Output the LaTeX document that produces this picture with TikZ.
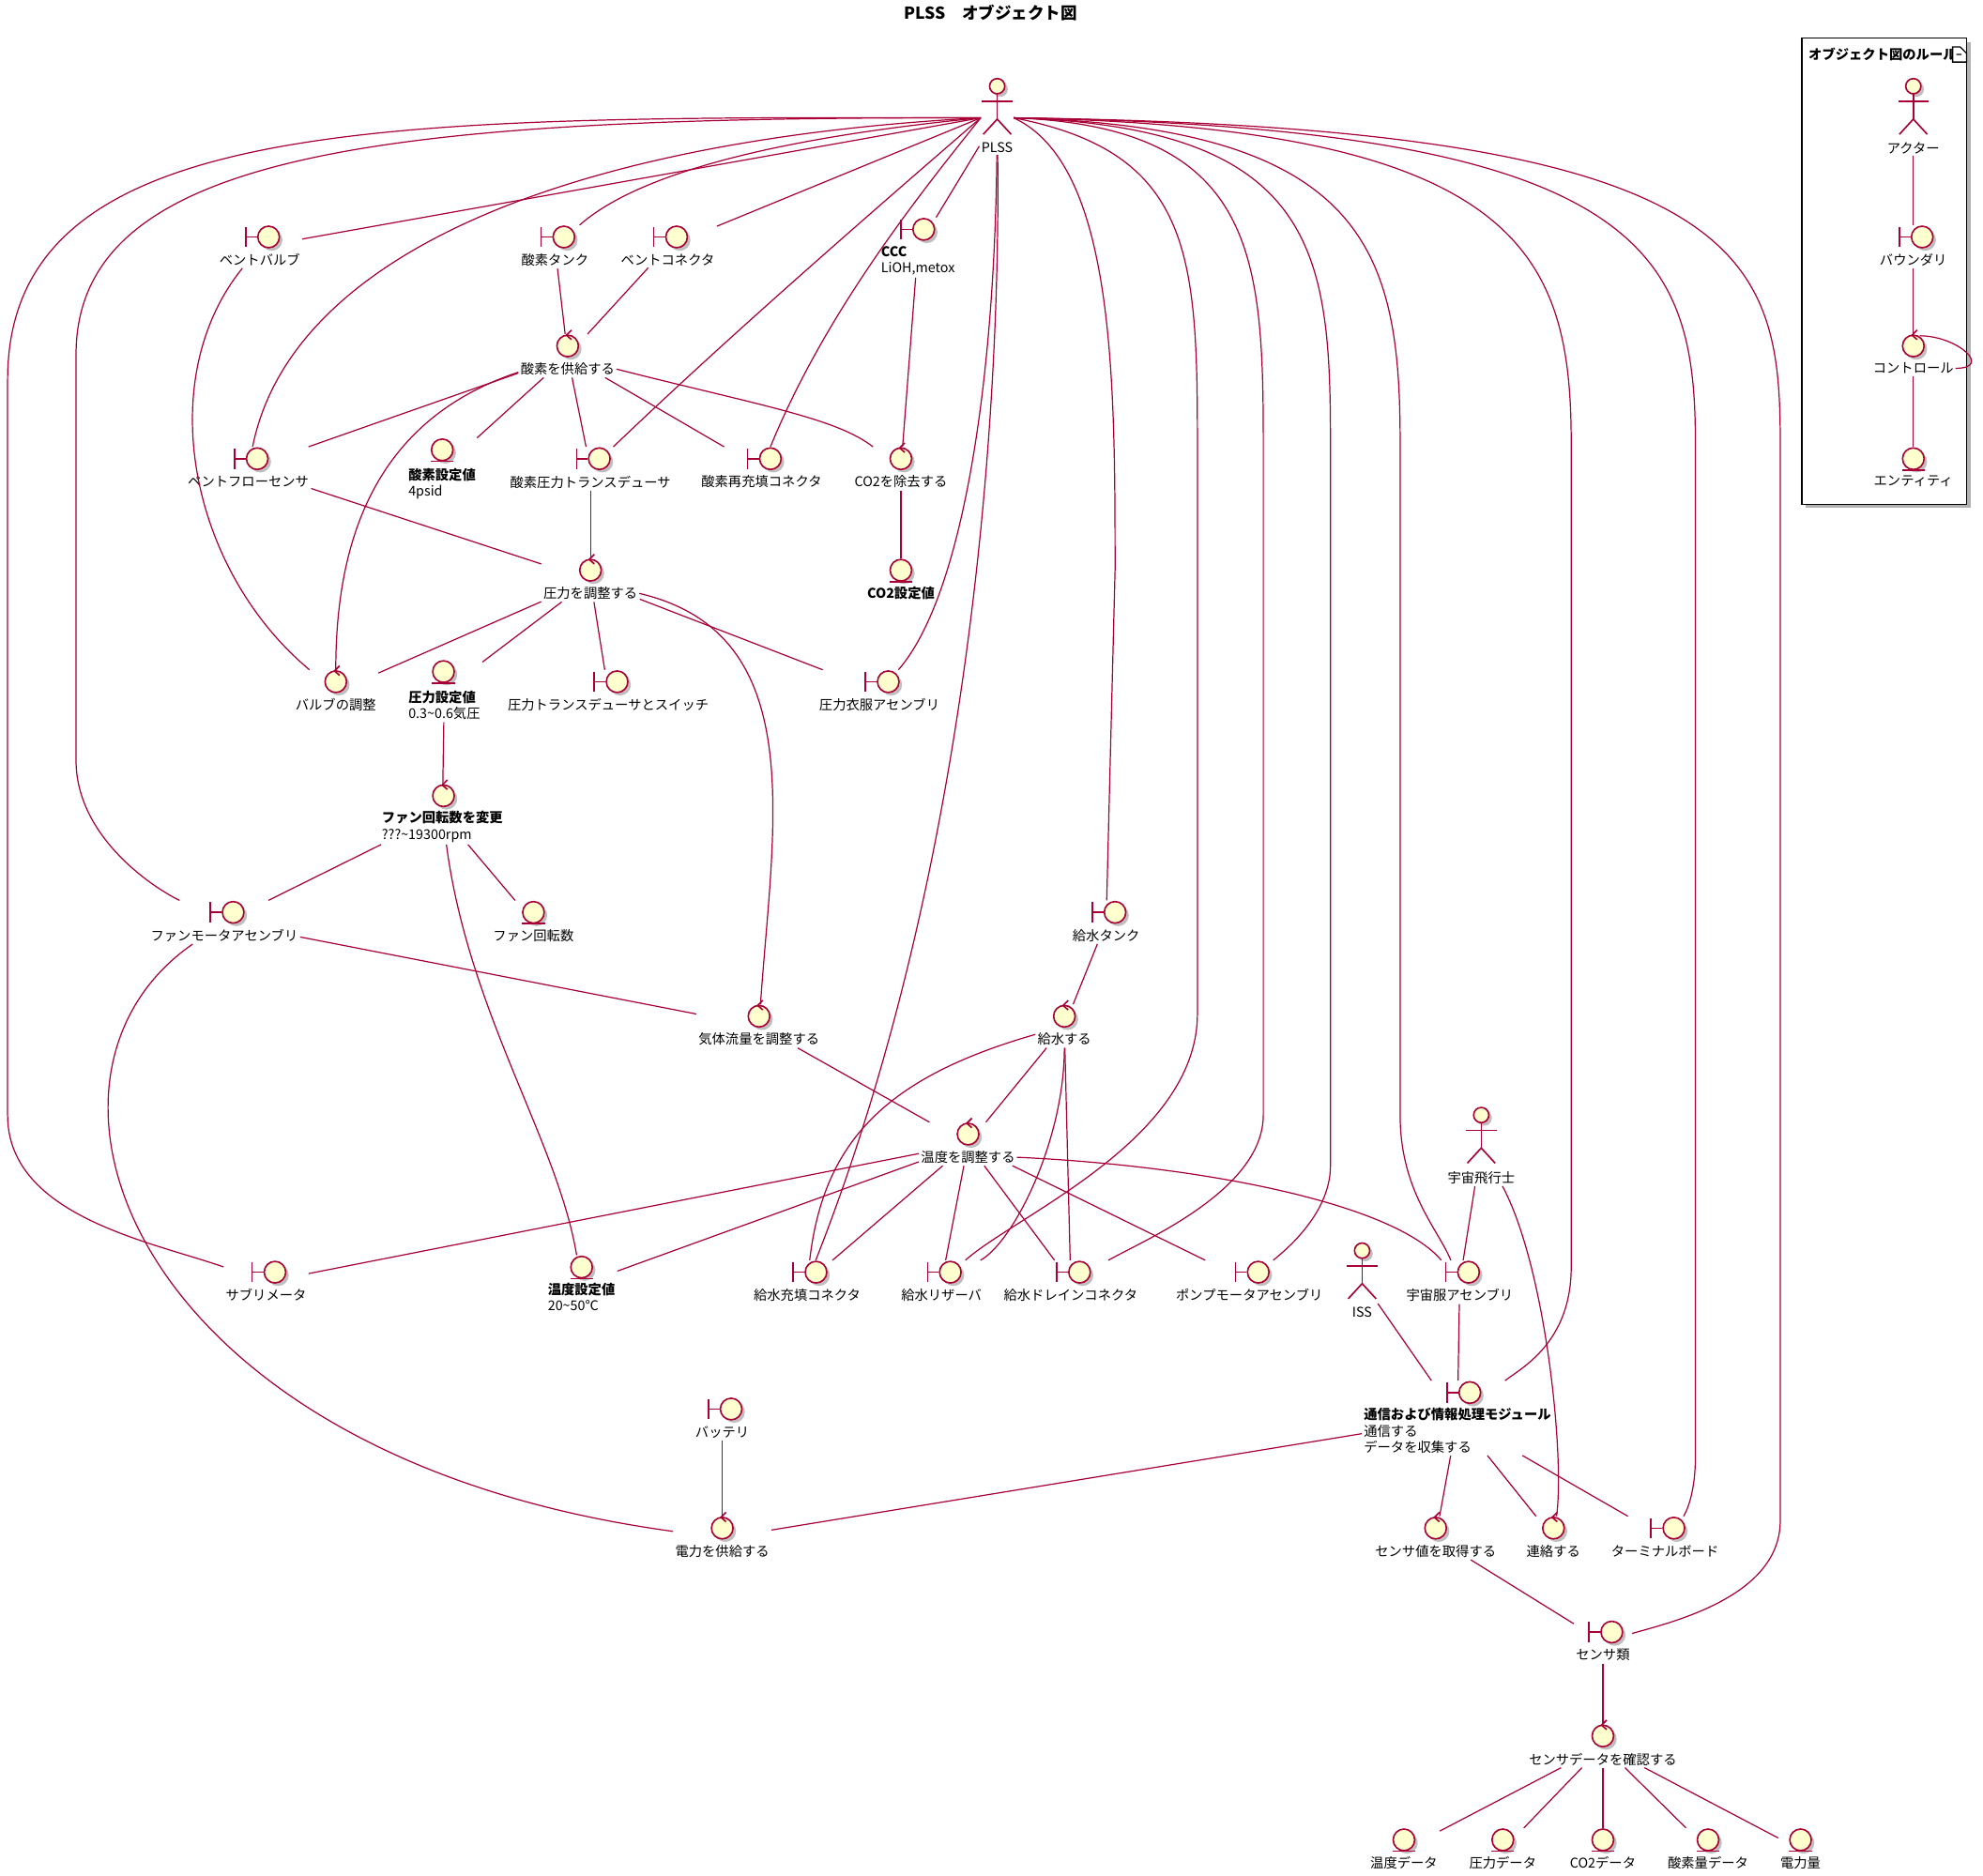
\documentclass[tikz,border=0pt]{standalone}
\usepackage{fontspec}
\setmainfont{Noto Sans CJK JP}
\usetikzlibrary{fit,shadows}
\definecolor{rd}{HTML}{A80036}
\definecolor{yl}{HTML}{FEFECE}
\tikzset{
 ic/.style={circle,draw=rd,fill=yl,line width=0.6pt,minimum size=8.5pt,inner sep=0pt,
   drop shadow={shadow xshift=1.2pt,shadow yshift=-1.2pt,opacity=.25,fill=black}},
 st/.style={draw=rd,line width=0.6pt},
 lbl/.style={font=\fontsize{5.3pt}{6.4pt}\selectfont,inner sep=0.5pt,align=center},
 fitn/.style={inner sep=0pt},
 e/.style={draw=rd,line width=0.45pt}
}
\newcommand\icboundary[3]{\node[ic] (#1-i) at (#2+7,#3) {};
 \draw[st] (#2-11,#3-8) -- (#2-11,#3+8); \draw[st] (#2-11,#3) -- (#1-i.west);
 \coordinate (#1-a) at (#2-12,#3-9); \coordinate (#1-b) at (#2+16,#3);}
\newcommand\iccontrol[3]{\node[ic] (#1-i) at (#2,#3) {};
 \draw[st] (#2+3,#3-12.5) -- (#2-1,#3-8.5) -- (#2+3,#3-5);
 \coordinate (#1-a) at (#2-9,#3-9); \coordinate (#1-b) at (#2+9,#3);}
\newcommand\icentity[3]{\node[ic] (#1-i) at (#2,#3) {};
 \draw[st] (#2-9,#3+9) -- (#2+9,#3+9);
 \coordinate (#1-a) at (#2-9,#3-9); \coordinate (#1-b) at (#2+9,#3);}
% element: name, type, x, y, text
\newcommand\el[5]{\csname ic#2\endcsname{#1}{#3}{#4}
 \node[lbl,anchor=north] (#1-l) at (#3,#4+12) {#5};
 \node[fitn,fit=(#1-a)(#1-b)(#1-l)] (#1) {};}
% left aligned label: name, type, x, y, lx, ly, text
\newcommand\elx[7]{\csname ic#2\endcsname{#1}{#3}{#4}
 \node[lbl,align=left,anchor=north west] (#1-l) at (#5,#6) {#7};
 \node[fitn,fit=(#1-a)(#1-b)(#1-l)] (#1) {};}
% actor: name, x, head y, text
\newcommand\ela[4]{\node[ic,minimum size=6pt] (#1-i) at (#2,#3) {};
 \draw[st] (#2,#3+6) -- (#2,#3+26); \draw[st] (#2-12,#3+12) -- (#2+12,#3+12);
 \draw[st] (#2-11,#3+38) -- (#2,#3+26) -- (#2+11,#3+38);
 \coordinate (#1-a) at (#2-12,#3-6); \coordinate (#1-b) at (#2+12,#3);
 \node[lbl,anchor=north] (#1-l) at (#2,#3+43) {#4};
 \node[fitn,fit=(#1-a)(#1-b)(#1-l)] (#1) {};}
\begin{document}
\begin{tikzpicture}[x=0.5pt,y=-0.5pt]
\useasboundingbox (0,0) rectangle (1565,1480);
\node[lbl,font=\fontsize{6.5pt}{7.5pt}\selectfont\bfseries] (title) at (782,10) {PLSS　オブジェクト図};
% legend
\draw[draw=black,line width=0.6pt,fill=white,drop shadow={shadow xshift=1.5pt,shadow yshift=-1.5pt,opacity=.3,fill=black}] (1422,30) rectangle (1552,398);
\node[lbl,font=\fontsize{5.3pt}{6.4pt}\selectfont\bfseries,anchor=west] (lt) at (1426,43) {オブジェクト図のルール};
\draw[black,line width=0.5pt,fill=white] (1541,37) -- (1547,37) -- (1552,42) -- (1552,49) -- (1541,49) -- cycle (1544,43) -- (1548,43);
\ela{la}{1510}{68}{アクター}
\el{lb}{boundary}{1510}{187}{バウンダリ}
\el{lc}{control}{1510}{273}{コントロール}
\el{le}{entity}{1510}{362}{エンティティ}
\draw[e] (la) -- (lb); \draw[e] (lb) -- (lc); \draw[e] (lc) -- (le);
\draw[e] (lc-l.east) .. controls +(30,0) and +(30,0) .. (1515,265);
% nodes
\ela{plss}{787}{68}{PLSS}
\el{vv}{boundary}{205}{187}{ベントバルブ}
\el{ot}{boundary}{438}{187}{酸素タンク}
\el{vc}{boundary}{527}{187}{ベントコネクタ}
\elx{ccc}{boundary}{722}{181}{694}{193}{\textbf{CCC}\\LiOH,metox}
\el{os}{control}{448}{273}{酸素を供給する}
\el{vfs}{boundary}{196}{362}{ベントフローセンサ}
\elx{osv}{entity}{349}{355}{321}{368}{\textbf{酸素設定値}\\4psid}
\el{opt}{boundary}{466}{362}{酸素圧力トランスデューサ}
\el{orc}{boundary}{601}{362}{酸素再充填コネクタ}
\el{co2r}{control}{711}{362}{CO2を除去する}
\el{co2v}{entity}{711}{450}{\textbf{CO2設定値}}
\el{pr}{control}{466}{450}{圧力を調整する}
\el{va}{control}{265}{538}{バルブの調整}
\elx{prv}{entity}{350}{530}{321}{544}{\textbf{圧力設定値}\\0.3\textasciitilde0.6気圧}
\el{pts}{boundary}{480}{538}{圧力トランスデューサとスイッチ}
\el{psa}{boundary}{694}{538}{圧力衣服アセンブリ}
\elx{fr}{control}{350}{628}{300}{639}{\textbf{ファン回転数を変更}\\???\textasciitilde19300rpm}
\el{fma}{boundary}{177}{720}{ファンモータアセンブリ}
\el{frn}{entity}{421}{720}{ファン回転数}
\el{wt}{boundary}{873}{720}{給水タンク}
\el{gf}{control}{599}{802}{気体流量を調整する}
\el{ws}{control}{840}{802}{給水する}
\el{tc}{control}{764}{895}{温度を調整する}
\ela{astro}{1169}{880}{宇宙飛行士}
\el{sub}{boundary}{210}{1004}{サブリメータ}
\elx{tv}{entity}{459}{1000}{431}{1011}{\textbf{温度設定値}\\20\textasciitilde50℃}
\el{wfc}{boundary}{637}{1004}{給水充填コネクタ}
\el{wr}{boundary}{743}{1004}{給水リザーバ}
\el{wdc}{boundary}{845}{1004}{給水ドレインコネクタ}
\el{pma}{boundary}{986}{1004}{ポンプモータアセンブリ}
\ela{iss}{1075}{987}{ISS}
\el{suit}{boundary}{1152}{1004}{宇宙服アセンブリ}
\elx{com}{boundary}{1153}{1099}{1075}{1110}{\textbf{通信および情報処理モジュール}\\通信する\\データを収集する}
\el{bat}{boundary}{570}{1112}{バッテリ}
\el{pw}{control}{570}{1206}{電力を供給する}
\el{sg}{control}{1133}{1206}{センサ値を取得する}
\el{ct}{control}{1226}{1206}{連絡する}
\el{tb}{boundary}{1314}{1206}{ターミナルボード}
\el{sens}{boundary}{1265}{1288}{センサ類}
\el{scd}{control}{1265}{1370}{センサデータを確認する}
\el{d1}{entity}{1108}{1452}{温度データ}
\el{d2}{entity}{1186}{1452}{圧力データ}
\el{d3}{entity}{1265}{1452}{CO2データ}
\el{d4}{entity}{1348}{1452}{酸素量データ}
\el{d5}{entity}{1421}{1452}{電力量}
% PLSS edges
\coordinate (pl) at (774,93); \coordinate (pr0) at (800,93);
\draw[e] (pl) -- (vv);
\draw[e] (pl) .. controls (600,110) and (500,140) .. (ot);
\draw[e] (pl) -- (vc);
\draw[e] (plss) -- (ccc);
\draw[e] (pl) .. controls (450,110) and (230,200) .. (vfs);
\draw[e] (pl) .. controls (650,200) and (560,280) .. (opt);
\draw[e] (pl) .. controls (720,160) and (650,250) .. (orc);
\draw[e] (plss) .. controls (785,300) and (760,470) .. (psa);
\draw[e] (plss) .. controls (790,350) and (760,700) .. (wfc);
\draw[e] (pl) .. controls (300,92) and (60,120) .. (60,280) -- (60,600) .. controls (60,660) and (120,700) .. (fma);
\draw[e] (pl) .. controls (300,92) and (6,90) .. (6,300) -- (6,880) .. controls (6,960) and (120,980) .. (sub);
\draw[e] (pr0) .. controls (880,130) and (880,300) .. (880,450) -- (wt);
\draw[e] (pr0) .. controls (940,120) and (945,200) .. (945,350) -- (945,800) .. controls (945,900) and (800,960) .. (wr);
\draw[e] (pr0) .. controls (990,100) and (997,200) .. (997,350) -- (997,880) .. controls (997,940) and (900,980) .. (wdc);
\draw[e] (pr0) .. controls (1040,100) and (1050,200) .. (1050,350) -- (1050,920) .. controls (1050,960) and (1010,990) .. (pma);
\draw[e] (pr0) .. controls (1080,100) and (1105,200) .. (1105,350) -- (1105,880) .. controls (1105,940) and (1135,970) .. (suit);
\draw[e] (pr0) .. controls (1200,100) and (1240,200) .. (1240,350) -- (1240,1000) .. controls (1240,1060) and (1200,1080) .. (com);
\draw[e] (pr0) .. controls (1300,100) and (1338,200) .. (1338,350) -- (1338,1150) .. controls (1338,1180) and (1330,1195) .. (tb);
\draw[e] (pr0) .. controls (1380,100) and (1405,200) .. (1405,350) -- (1405,1200) .. controls (1405,1260) and (1320,1280) .. (sens);
% other edges
\draw[e] (ot) -- (os); \draw[e] (vc) -- (os); \draw[e] (ccc) -- (co2r);
\draw[e] (os) -- (vfs); \draw[e] (os) -- (osv); \draw[e] (os) -- (opt);
\draw[e] (os) -- (orc); \draw[e] (os-l.east) .. controls (600,320) and (660,330) .. (co2r);
\draw[e] (os) .. controls (300,330) and (265,420) .. (va);
\draw[e] (vv) .. controls (120,300) and (150,450) .. (va);
\draw[e] (co2r) -- (co2v);
\draw[e] (vfs) -- (pr); \draw[e] (opt) -- (pr);
\draw[e] (pr) -- (va); \draw[e] (pr) -- (prv); \draw[e] (pr) -- (pts); \draw[e] (pr) -- (psa);
\draw[e] (pr-l.east) .. controls (640,500) and (610,650) .. (gf);
\draw[e] (prv) -- (fr);
\draw[e] (fr) -- (fma); \draw[e] (fr) -- (frn);
\draw[e] (fr) .. controls (370,800) and (440,900) .. (tv);
\draw[e] (fma) -- (gf);
\draw[e] (fma) .. controls (0,850) and (100,1150) .. (pw);
\draw[e] (wt) -- (ws);
\draw[e] (ws) -- (tc); \draw[e] (ws) -- (wdc);
\draw[e] (ws) .. controls (700,850) and (650,900) .. (wfc);
\draw[e] (ws) .. controls (840,900) and (800,980) .. (wr);
\draw[e] (gf) -- (tc);
\draw[e] (tc) -- (sub); \draw[e] (tc) -- (tv); \draw[e] (tc) -- (wfc);
\draw[e] (tc) -- (wr); \draw[e] (tc) -- (wdc); \draw[e] (tc) -- (pma);
\draw[e] (tc-l.east) .. controls (950,920) and (1100,950) .. (suit);
\draw[e] (astro) -- (suit); \draw[e] (astro) .. controls (1220,1000) and (1235,1150) .. (ct);
\draw[e] (iss) -- (com); \draw[e] (suit) -- (com);
\draw[e] (com) -- (pw); \draw[e] (com) -- (sg); \draw[e] (com) -- (ct); \draw[e] (com) -- (tb);
\draw[e] (bat) -- (pw);
\draw[e] (sg) -- (sens); \draw[e] (sens) -- (scd);
\foreach \d in {d1,d2,d3,d4,d5} \draw[e] (scd) -- (\d);
\end{tikzpicture}
\end{document}
